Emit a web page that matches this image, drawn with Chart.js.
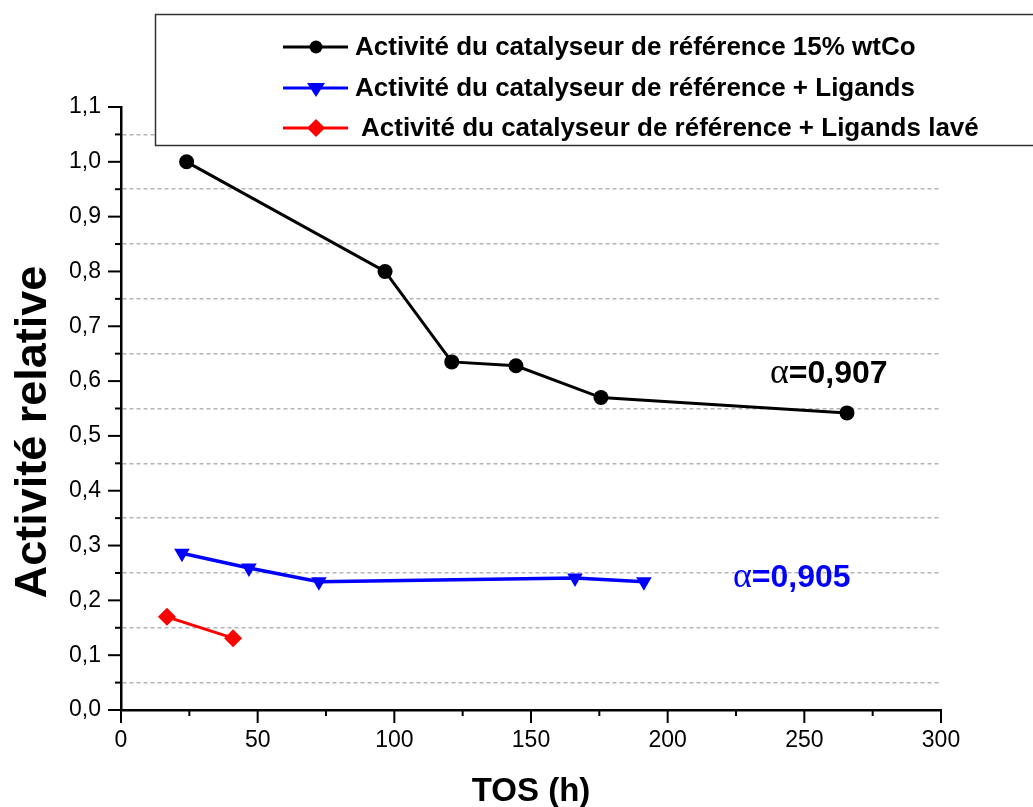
<!DOCTYPE html>
<html>
<head>
<meta charset="utf-8">
<script src="https://cdn.jsdelivr.net/npm/chart.js@4.4.0/dist/chart.umd.min.js"></script>
<style>
  html, body { margin: 0; padding: 0; background: #fff; }
  #wrap { width: 1033px; height: 807px; position: relative; }
</style>
</head>
<body>
<div id="wrap"><canvas id="chart" width="1033" height="807"></canvas></div>
<script>
// Data
const refX = [24, 96.6, 121, 144.5, 175.6, 265.6];
const refY = [1.0, 0.80, 0.635, 0.628, 0.570, 0.542];
const ligX = [22.3, 46.8, 72.4, 166.1, 191.3];
const ligY = [0.286, 0.259, 0.234, 0.241, 0.234];
const lavX = [16.8, 41.0];
const lavY = [0.170, 0.131];

const seriesLabels = [
    'Activité du catalyseur de référence 15% wtCo',
    'Activité du catalyseur de référence + Ligands',
    'Activité du catalyseur de référence + Ligands lavé'
];
const alphaTexts = ['=0,907', '=0,905'];
const xTitle = 'TOS (h)';
const yTitle = 'Activité relative';

const colors = {
    ref: '#000000',
    lig: '#0000ff',
    lav: '#ff0000',
    grid: '#b4b4b4'
};

const FONT = "'Liberation Sans', Arial, sans-serif";
Chart.defaults.font.family = FONT;

function pts(xs, ys) {
    return xs.map((x, i) => ({ x: x, y: ys[i] }));
}

// draws ticks, titles, legend box and the alpha notes
const decorPlugin = {
    id: 'decor',
    afterDraw(chart) {
        const ctx = chart.ctx;
        const xs = chart.scales.x, ys = chart.scales.y;
        const area = chart.chartArea;
        ctx.save();
        ctx.strokeStyle = '#000';
        ctx.lineWidth = 2;
        // y ticks
        for (let i = 0; i <= 22; i++) {
            const py = ys.getPixelForValue(i * 0.05);
            const len = i % 2 === 0 ? 13 : 6;
            ctx.beginPath();
            ctx.moveTo(area.left - len, py);
            ctx.lineTo(area.left, py);
            ctx.stroke();
        }
        // x ticks
        for (let i = 0; i <= 12; i++) {
            const px = xs.getPixelForValue(i * 25);
            const len = i % 2 === 0 ? 13 : 6;
            ctx.beginPath();
            ctx.moveTo(px, area.bottom);
            ctx.lineTo(px, area.bottom + len);
            ctx.stroke();
        }

        // axis titles
        ctx.fillStyle = '#000';
        ctx.font = 'bold 33px ' + FONT;
        ctx.textAlign = 'center';
        ctx.textBaseline = 'alphabetic';
        ctx.fillText(xTitle, (area.left + area.right) / 2, 801);
        ctx.save();
        ctx.translate(46, 432);
        ctx.rotate(-Math.PI / 2);
        ctx.font = 'bold 45px ' + FONT;
        ctx.fillText(yTitle, 0, 0);
        ctx.restore();

        // legend box
        ctx.fillStyle = '#fff';
        ctx.fillRect(155, 14, 900, 132);
        ctx.strokeStyle = '#333';
        ctx.lineWidth = 1.5;
        ctx.strokeRect(155.5, 14.5, 900, 131);

        const rowY = [47, 88, 128];
        const textX = [355, 355, 361];
        chart.data.datasets.forEach((ds, i) => {
            const y = rowY[i];
            ctx.strokeStyle = ds.borderColor;
            ctx.lineWidth = 3;
            ctx.beginPath();
            ctx.moveTo(283, y);
            ctx.lineTo(348, y);
            ctx.stroke();
            ctx.fillStyle = ds.borderColor;
            ctx.beginPath();
            if (ds.pointStyle === 'circle') {
                ctx.arc(316, y, 6.5, 0, Math.PI * 2);
            } else if (ds.pointStyle === 'triangle') {
                ctx.moveTo(307, y - 5);
                ctx.lineTo(325, y - 5);
                ctx.lineTo(316, y + 9);
                ctx.closePath();
            } else {
                ctx.moveTo(316, y - 9);
                ctx.lineTo(325, y);
                ctx.lineTo(316, y + 9);
                ctx.lineTo(307, y);
                ctx.closePath();
            }
            ctx.fill();
            ctx.fillStyle = '#000';
            ctx.font = 'bold 26px ' + FONT;
            ctx.textAlign = 'left';
            ctx.textBaseline = 'alphabetic';
            ctx.fillText(ds.label, textX[i], y + 8);
        });

        // alpha notes
        const notes = [
            { x: 237.4, y: 0.5965, color: colors.ref, text: alphaTexts[0] },
            { x: 223.9, y: 0.2244, color: colors.lig, text: alphaTexts[1] }
        ];
        notes.forEach(n => {
            const px = xs.getPixelForValue(n.x);
            const py = ys.getPixelForValue(n.y);
            ctx.fillStyle = n.color;
            ctx.textAlign = 'left';
            ctx.font = "36px 'Liberation Serif', 'Times New Roman', serif";
            ctx.fillText('\u03b1', px, py);
            const w = ctx.measureText('\u03b1').width;
            ctx.font = 'bold 32px ' + FONT;
            ctx.fillText(n.text, px + w, py);
        });
        ctx.restore();
    }
};

new Chart(document.getElementById('chart'), {
    type: 'line',
    data: {
        datasets: [
            {
                label: seriesLabels[0],
                data: pts(refX, refY),
                borderColor: colors.ref,
                backgroundColor: colors.ref,
                borderWidth: 3,
                pointStyle: 'circle',
                pointRadius: 7.5,
                pointBorderWidth: 0
            },
            {
                label: seriesLabels[1],
                data: pts(ligX, ligY),
                borderColor: colors.lig,
                backgroundColor: colors.lig,
                borderWidth: 3.5,
                pointStyle: 'triangle',
                pointRotation: 180,
                pointRadius: 9,
                pointBorderWidth: 0
            },
            {
                label: seriesLabels[2],
                data: pts(lavX, lavY),
                borderColor: colors.lav,
                backgroundColor: colors.lav,
                borderWidth: 3,
                pointStyle: 'rectRot',
                pointRadius: 9,
                pointBorderWidth: 0
            }
        ]
    },
    options: {
        responsive: false,
        animation: false,
        layout: { padding: { top: 107, right: 92, left: 0, bottom: 0 } },
        plugins: {
            legend: { display: false },
            tooltip: { enabled: false }
        },
        scales: {
            x: {
                type: 'linear',
                min: 0,
                max: 300,
                afterFit: s => { s.height = 97; },
                ticks: {
                    stepSize: 50,
                    padding: 17,
                    color: '#000',
                    font: { size: 23 }
                },
                grid: { display: false, drawTicks: false },
                border: { color: '#000', width: 2.5 }
            },
            y: {
                min: 0,
                max: 1.1,
                afterFit: s => { s.width = 121; },
                ticks: {
                    stepSize: 0.05,
                    autoSkip: false,
                    maxTicksLimit: 30,
                    padding: 20,
                    color: '#000',
                    font: { size: 23 },
                    callback: (v, i) => i % 2 === 0 ? (i / 20).toFixed(1).replace('.', ',') : ''
                },
                grid: {
                    drawTicks: false,
                    lineWidth: 1.5,
                    color: c => (c.index % 2 === 1) ? colors.grid : 'rgba(0,0,0,0)'
                },
                border: { color: '#000', width: 2.5, dash: [4, 3] }
            }
        }
    },
    plugins: [decorPlugin]
});
</script>
</body>
</html>
